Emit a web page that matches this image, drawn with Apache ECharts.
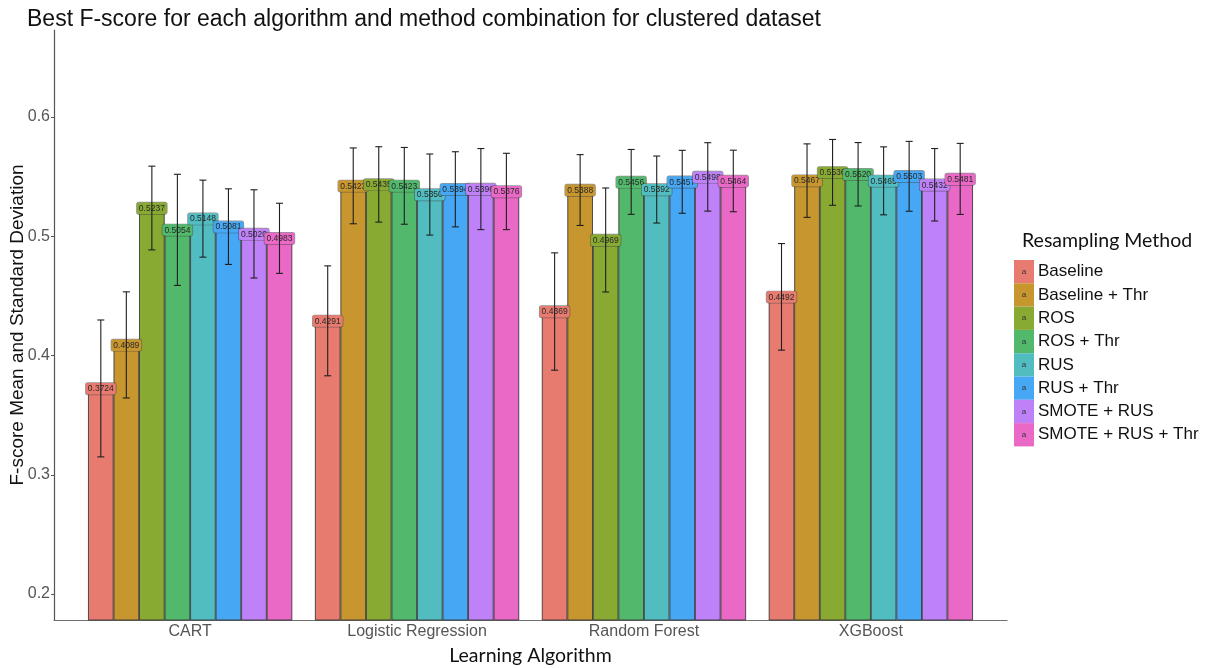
<!DOCTYPE html>
<html>
<head>
<meta charset="utf-8">
<title>Best F-score per algorithm and resampling method</title>
<script src="https://cdn.jsdelivr.net/npm/echarts@6/dist/echarts.min.js"></script>
<style>
  html, body { margin: 0; padding: 0; background: #ffffff; }
  #chart { width: 1206px; height: 668px; }
</style>
</head>
<body>
<div id="chart"></div>
<script>
// Learning algorithms on the x axis
const algorithms = ['CART', 'Logistic Regression', 'Random Forest', 'XGBoost'];

// Resampling methods (one bar series each) and their fill colours
const methods = ['Baseline', 'Baseline + Thr', 'ROS', 'ROS + Thr', 'RUS', 'RUS + Thr', 'SMOTE + RUS', 'SMOTE + RUS + Thr'];
const colors = ['#E87B70', '#C8962F', '#88AA33', '#52B96C', '#52BDC1', '#46A7F4', '#BF81F7', '#EA69C6'];

// Mean F-score per method, ordered as the algorithms array
const baseline      = [0.3724, 0.4291, 0.4369, 0.4492];
const baselineThr   = [0.4089, 0.5423, 0.5388, 0.5467];
const ros           = [0.5237, 0.5435, 0.4969, 0.5536];
const rosThr        = [0.5054, 0.5423, 0.5456, 0.5520];
const rus           = [0.5148, 0.5350, 0.5392, 0.5465];
const rusThr        = [0.5081, 0.5394, 0.5457, 0.5503];
const smoteRus      = [0.5020, 0.5396, 0.5498, 0.5432];
const smoteRusThr   = [0.4983, 0.5376, 0.5464, 0.5481];

// Standard deviation per method, same order
const baselineSd    = [0.0574, 0.0461, 0.0492, 0.0447];
const baselineThrSd = [0.0445, 0.0318, 0.0297, 0.0308];
const rosSd         = [0.0351, 0.0316, 0.0436, 0.0276];
const rosThrSd      = [0.0466, 0.0322, 0.0272, 0.0266];
const rusSd         = [0.0323, 0.0340, 0.0281, 0.0285];
const rusThrSd      = [0.0317, 0.0315, 0.0264, 0.0293];
const smoteRusSd    = [0.0370, 0.0340, 0.0287, 0.0304];
const smoteRusThrSd = [0.0294, 0.0320, 0.0258, 0.0298];

// y-axis tick labels
const yTicks = [0.2, 0.3, 0.4, 0.5, 0.6];

const means = [baseline, baselineThr, ros, rosThr, rus, rusThr, smoteRus, smoteRusThr];
const sds = [baselineSd, baselineThrSd, rosSd, rosThrSd, rusSd, rusThrSd, smoteRusSd, smoteRusThrSd];

const SANS = '"Liberation Sans", Arial, Helvetica, sans-serif';
const HUMANIST = 'Lato, "Open Sans", sans-serif';
const GROUP_FRACTION = 0.9;
const Y_MIN = 0.1782;
const Y_MAX = 0.673;

const chart = echarts.init(document.getElementById('chart'), null, { renderer: 'canvas' });

const barSeries = methods.map((m, i) => ({
  name: m,
  type: 'bar',
  xAxisIndex: 0,
  yAxisIndex: 0,
  data: means[i],
  barGap: '0%',
  barCategoryGap: '10%',
  itemStyle: { color: colors[i], borderColor: '#2b2b2b', borderWidth: 0.8 },
  label: {
    show: true,
    position: 'top',
    distance: -6,
    formatter: p => p.value.toFixed(4),
    fontFamily: SANS,
    fontSize: 8.5,
    color: '#2a2a2a',
    backgroundColor: colors[i],
    borderColor: 'rgba(60,60,60,0.55)',
    borderWidth: 0.7,
    borderRadius: 2,
    padding: [1.5, 2, 1, 2]
  },
  emphasis: { disabled: true },
  z: 2
}));

// Error bars: mean ± sd, drawn at the centre of each method's bar
const errorSeries = methods.map((m, i) => ({
  name: m + ' sd',
  type: 'custom',
  xAxisIndex: 0,
  yAxisIndex: 0,
  data: means[i].map((v, k) => [k, v - sds[i][k], v + sds[i][k]]),
  renderItem: (params, api) => {
    const cat = api.value(0);
    const low = api.coord([cat, api.value(1)]);
    const high = api.coord([cat, api.value(2)]);
    const band = api.size([1, 0])[0];
    const barW = band * GROUP_FRACTION / methods.length;
    const x = low[0] + (i - (methods.length - 1) / 2) * barW;
    const cap = 3.5;
    const style = { stroke: '#1f1f1f', lineWidth: 1.1 };
    return {
      type: 'group',
      children: [
        { type: 'line', shape: { x1: x, y1: low[1], x2: x, y2: high[1] }, style },
        { type: 'line', shape: { x1: x - cap, y1: high[1], x2: x + cap, y2: high[1] }, style },
        { type: 'line', shape: { x1: x - cap, y1: low[1], x2: x + cap, y2: low[1] }, style }
      ]
    };
  },
  encode: { x: 0, y: [1, 2] },
  silent: true,
  z: 3
}));

const option = {
  backgroundColor: '#ffffff',
  animation: false,
  title: [
    {
      text: 'Best F-score for each algorithm and method combination for clustered dataset',
      left: 22,
      top: 3,
      textStyle: { fontFamily: SANS, fontSize: 23, fontWeight: 'normal', color: '#111111' }
    },
    {
      text: 'Resampling Method',
      left: 1017,
      top: 226,
      textStyle: { fontFamily: HUMANIST, fontSize: 19.5, fontWeight: 'normal', color: '#111111' }
    }
  ],
  legend: {
    orient: 'vertical',
    left: 1008,
    top: 260,
    padding: 0,
    itemGap: 0,
    itemWidth: 0,
    itemHeight: 0,
    itemStyle: { opacity: 0 },
    selectedMode: false,
    formatter: name => '{k|a}{t|' + name + '}',
    data: methods.map((m, i) => ({
      name: m,
      textStyle: {
        rich: {
          k: {
            backgroundColor: colors[i],
            width: 20,
            height: 23.3,
            lineHeight: 23.3,
            align: 'center',
            fontFamily: SANS,
            fontSize: 8,
            color: '#333333'
          },
          t: {
            fontFamily: SANS,
            fontSize: 17,
            color: '#111111',
            padding: [0, 0, 0, 4]
          }
        }
      }
    }))
  },
  // grid 0 holds the bars (category bands inset from the frame);
  // grid 1 is the full panel frame that carries the axis lines and y scale
  grid: [
    { left: 76.7, right: 221.7, top: 30, bottom: 48, containLabel: false, outerBoundsMode: 'none' },
    { left: 54, right: 199, top: 30, bottom: 48, containLabel: false, outerBoundsMode: 'none' }
  ],
  xAxis: [
    {
      type: 'category',
      gridIndex: 0,
      data: algorithms,
      name: 'Learning Algorithm',
      nameLocation: 'middle',
      nameGap: 26,
      nameTextStyle: { fontFamily: HUMANIST, fontSize: 19.5, color: '#111111' },
      axisLine: { show: false },
      axisTick: { show: false },
      axisLabel: { fontFamily: SANS, fontSize: 16, color: '#555555', margin: 4 },
      splitLine: { show: false }
    },
    {
      type: 'value',
      gridIndex: 1,
      min: 0,
      max: 1,
      axisLine: { show: true, lineStyle: { color: '#707070', width: 1.2 } },
      axisTick: { show: false },
      axisLabel: { show: false },
      splitLine: { show: false }
    }
  ],
  yAxis: [
    {
      type: 'value',
      gridIndex: 0,
      min: Y_MIN,
      max: Y_MAX,
      show: false,
      splitLine: { show: false }
    },
    {
      type: 'value',
      gridIndex: 1,
      min: Y_MIN,
      max: Y_MAX,
      name: 'F-score Mean and Standard Deviation',
      nameLocation: 'middle',
      nameGap: 27,
      nameMoveOverlap: false,
      nameTextStyle: { fontFamily: SANS, fontSize: 19, color: '#111111' },
      axisLine: { show: true, lineStyle: { color: '#555555', width: 1.2 } },
      axisTick: { show: true, length: 3, customValues: yTicks, lineStyle: { color: '#555555' } },
      axisLabel: {
        customValues: yTicks,
        formatter: v => v.toFixed(1),
        fontFamily: SANS,
        fontSize: 16,
        color: '#555555',
        margin: 4
      },
      splitLine: { show: false }
    }
  ],
  series: [...barSeries, ...errorSeries]
};

chart.setOption(option);
</script>
</body>
</html>
